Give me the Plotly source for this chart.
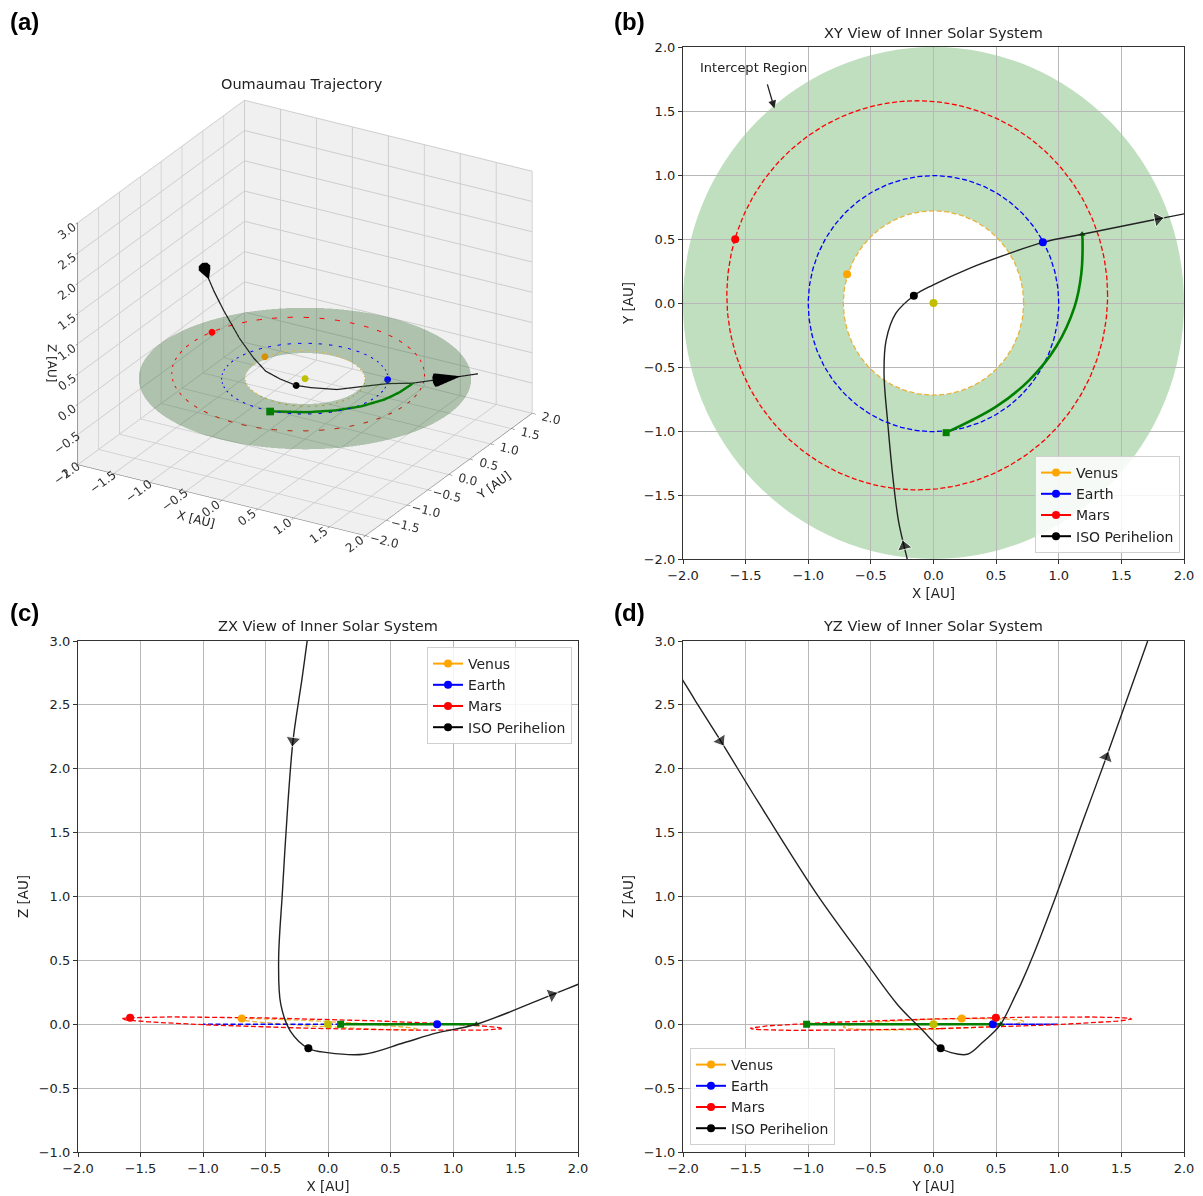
import numpy as np
import plotly.graph_objects as go

# ---------------- data ----------------
traj_x = [-0.16, -0.21, -0.235, -0.28, -0.32, -0.365, -0.395, -0.378, -0.30, -0.157, -0.005, 0.287, 0.607, 0.873, 1.187, 1.79, 2.02, 2.6, 3.5, 5.0, 6.2, 8.0]
traj_y = [-2.25, -2.0, -1.90, -1.70, -1.40, -0.94, -0.55, -0.29, -0.08, 0.057, 0.14, 0.271, 0.388, 0.474, 0.537, 0.656, 0.70, 0.80, 0.98, 1.20, 1.38, 1.71]
traj_z = [3.05, 2.69, 2.53, 2.22, 1.74, 1.03, 0.50, 0.157, -0.055, -0.188, -0.222, -0.235, -0.145, -0.068, 0.0, 0.23, 0.32, 0.55, 1.01, 1.61, 2.09, 3.0]
traj_3d_last = 16          # last point drawn in the 3D view

transfer_x = [0.101, 0.5, 0.767, 0.98, 1.126, 1.18, 1.19, 1.187]
transfer_y = [-1.013, -0.81, -0.60, -0.34, -0.03, 0.23, 0.49, 0.537]
transfer_z = [0.0, 0.0, 0.0, 0.0, 0.0, 0.0, 0.0, 0.0]

planet_names = ["Venus", "Earth", "Mars"]
planet_colors = ["#FFA500", "#0000FF", "#FF0000"]
orbit_colors = ["#E8B23A", "#0000FF", "#FF0000"]
planet_x = [-0.69, 0.873, -1.583]
planet_y = [0.225, 0.474, 0.498]
planet_z = [0.045, 0.0, 0.05]

orbit_cx = [0.0, 0.0, -0.13]
orbit_cy = [0.0, -0.005, 0.06]
orbit_r = [0.72, 1.0, 1.52]
orbit_sx = [-0.055, 0.0, -0.025]   # plane tilt dz/dx
orbit_sy = [0.03, 0.0, 0.024]      # plane tilt dz/dy

sun_xyz = [0.0, 0.0, 0.0]
perihelion_xyz = [-0.157, 0.057, -0.188]
intercept_r = [0.72, 2.0]

arrows_b = [2, 15]
arrows_c = [3, 15]
arrows_d = [3, 20]
arrows_3d = [(1, 2, 2), (15, 16, 15)]   # (from, to, tip point)

ticks_xy = [-2.0, -1.5, -1.0, -0.5, 0.0, 0.5, 1.0, 1.5, 2.0]
ticks_z = [-1.0, -0.5, 0.0, 0.5, 1.0, 1.5, 2.0, 2.5, 3.0]

FONT = "DejaVu Sans"
W, H = 1203, 1196

traj = [traj_x, traj_y, traj_z]
transfer = [transfer_x, transfer_y, transfer_z]
theta = np.linspace(0, 2 * np.pi, 241)
orbits = []
for cx, cy, r, sx, sy in zip(orbit_cx, orbit_cy, orbit_r, orbit_sx, orbit_sy):
    ox = cx + r * np.cos(theta)
    oy = cy + r * np.sin(theta)
    oz = sx * ox + sy * oy
    orbits.append([ox, oy, oz])

fig = go.Figure()


def px_x(p):
    return p / W


def px_y(p):
    return 1 - p / H


def add_view(xa, ya, i, j, legend, arrows):
    common = dict(xaxis=xa, yaxis=ya, hoverinfo="skip")
    for k in range(3):
        fig.add_trace(go.Scatter(x=orbits[k][i], y=orbits[k][j], mode="lines",
                                 line=dict(color=orbit_colors[k], width=1.3, dash="5px,2.5px"),
                                 showlegend=False, **common))
    fig.add_trace(go.Scatter(x=transfer[i], y=transfer[j], mode="lines",
                             line=dict(color="#008000", width=2.6, shape="spline", smoothing=1.0),
                             showlegend=False, **common))
    fig.add_trace(go.Scatter(x=[transfer[i][0]], y=[transfer[j][0]], mode="markers",
                             marker=dict(symbol="square", size=7, color="#008000"),
                             showlegend=False, **common))
    fig.add_trace(go.Scatter(x=[transfer[i][-1]], y=[transfer[j][-1]], mode="markers",
                             marker=dict(symbol="triangle-up", size=6, color="#006000"),
                             showlegend=False, **common))
    fig.add_trace(go.Scatter(x=traj[i], y=traj[j], mode="lines",
                             line=dict(color="#222222", width=1.4, shape="spline", smoothing=1.0),
                             showlegend=False, cliponaxis=True, **common))
    for a in arrows:
        fig.add_trace(go.Scatter(x=[traj[i][a - 1], traj[i][a]], y=[traj[j][a - 1], traj[j][a]],
                                 mode="markers",
                                 marker=dict(symbol="triangle-up", size=[0, 13], color="black",
                                             angleref="previous"),
                                 showlegend=False, **common))
    fig.add_trace(go.Scatter(x=[sun_xyz[i]], y=[sun_xyz[j]], mode="markers",
                             marker=dict(size=8, color="#BFBF00"), showlegend=False, **common))
    pxyz = [planet_x, planet_y, planet_z]
    for k in range(3):
        fig.add_trace(go.Scatter(x=[pxyz[i][k]], y=[pxyz[j][k]], mode="lines+markers",
                                 name=planet_names[k], legend=legend,
                                 line=dict(color=planet_colors[k], width=2),
                                 marker=dict(size=8, color=planet_colors[k]), **common))
    fig.add_trace(go.Scatter(x=[perihelion_xyz[i]], y=[perihelion_xyz[j]], mode="lines+markers",
                             name="ISO Perihelion", legend=legend,
                             line=dict(color="black", width=2),
                             marker=dict(size=8, color="black"), **common))


# ---- (b) XY view ----
add_view("x", "y", 0, 1, "legend", arrows_b)
# ---- (c) ZX view ----
add_view("x2", "y2", 0, 2, "legend2", arrows_c)
# ---- (d) YZ view ----
add_view("x3", "y3", 1, 2, "legend3", arrows_d)

# ---- (a) 3D view ----
T, R = np.meshgrid(theta, np.array(intercept_r))
fig.add_trace(go.Surface(x=R * np.cos(T), y=R * np.sin(T), z=np.zeros_like(R),
                         surfacecolor=np.zeros_like(R),
                         colorscale=[[0, "rgb(40,100,40)"], [1, "rgb(40,100,40)"]],
                         opacity=0.33, showscale=False, hoverinfo="skip",
                         lighting=dict(ambient=1, diffuse=0, specular=0, fresnel=0),
                         scene="scene"))
for k in range(3):
    fig.add_trace(go.Scatter3d(x=orbits[k][0], y=orbits[k][1], z=orbits[k][2], mode="lines",
                               line=dict(color=orbit_colors[k], width=2, dash="dash"),
                               showlegend=False, hoverinfo="skip", scene="scene"))
fig.add_trace(go.Scatter3d(x=transfer_x, y=transfer_y, z=transfer_z, mode="lines",
                           line=dict(color="#008000", width=5), showlegend=False,
                           hoverinfo="skip", scene="scene"))
fig.add_trace(go.Scatter3d(x=[transfer_x[0]], y=[transfer_y[0]], z=[transfer_z[0]], mode="markers",
                           marker=dict(symbol="square", size=4, color="#008000"), showlegend=False,
                           hoverinfo="skip", scene="scene"))
n3 = traj_3d_last + 1
fig.add_trace(go.Scatter3d(x=traj_x[1:n3], y=traj_y[1:n3], z=traj_z[1:n3], mode="lines",
                           line=dict(color="#222222", width=2.5), showlegend=False,
                           hoverinfo="skip", scene="scene"))
cone_dirs, cone_pts = [], []
for a, b, p in arrows_3d:
    d = np.array([traj_x[b] - traj_x[a], traj_y[b] - traj_y[a], traj_z[b] - traj_z[a]])
    cone_dirs.append(d / np.linalg.norm(d))
    cone_pts.append(p)
cone_dirs = np.array(cone_dirs)
fig.add_trace(go.Cone(x=[traj_x[p] for p in cone_pts], y=[traj_y[p] for p in cone_pts],
                      z=[traj_z[p] for p in cone_pts],
                      u=cone_dirs[:, 0], v=cone_dirs[:, 1], w=cone_dirs[:, 2],
                      anchor="tip", sizemode="absolute", sizeref=0.09,
                      colorscale=[[0, "black"], [1, "black"]], showscale=False,
                      hoverinfo="skip", scene="scene"))
fig.add_trace(go.Scatter3d(x=planet_x + [sun_xyz[0], perihelion_xyz[0]],
                           y=planet_y + [sun_xyz[1], perihelion_xyz[1]],
                           z=planet_z + [sun_xyz[2], perihelion_xyz[2]],
                           mode="markers",
                           marker=dict(size=4, color=["#D89000", "#0000FF", "#FF0000", "#BFBF00", "black"]),
                           showlegend=False, hoverinfo="skip", scene="scene"))

# ---------------- layout ----------------
grid = "#b8b8b8"


def ax2d(dom, rng, ticks, title, anchor):
    return dict(domain=dom, range=rng, tickvals=ticks, tickformat=".1f", showgrid=True,
                gridcolor=grid, gridwidth=1, zeroline=False, showline=True, linecolor="#333333",
                linewidth=1.2, mirror=True, ticks="outside", ticklen=4, tickcolor="#333333",
                tickfont=dict(size=13, color="#222222", family=FONT),
                title=dict(text=title, font=dict(size=13.5, color="#222222", family=FONT), standoff=6),
                anchor=anchor, automargin=False, fixedrange=True)


xb = [px_x(683), px_x(1184)]
yb = [px_y(559), px_y(47)]
xc = [px_x(78), px_x(578)]
ycd = [px_y(1152), px_y(641)]
xd = [px_x(683), px_x(1184)]

scene_axis = dict(showbackground=True, backgroundcolor="rgb(240,240,240)", gridcolor="rgb(205,205,205)",
                  showline=True, linecolor="#444444", ticks="outside", ticklen=4, tickformat=".1f",
                  tickfont=dict(size=12, color="#333333", family=FONT), showspikes=False,
                  zeroline=False)

legend_common = dict(bgcolor="rgba(255,255,255,0.85)", bordercolor="#d0d0d0", borderwidth=1,
                     font=dict(size=14, family=FONT), tracegroupgap=0, itemwidth=30)

fig.update_layout(
    width=W, height=H, margin=dict(l=0, r=0, t=0, b=0),
    paper_bgcolor="white", plot_bgcolor="white",
    font=dict(family=FONT, color="#222222"),
    xaxis=ax2d(xb, [-2, 2], ticks_xy, "X [AU]", "y"),
    yaxis=ax2d(yb, [-2, 2], ticks_xy, "Y [AU]", "x"),
    xaxis2=ax2d(xc, [-2, 2], ticks_xy, "X [AU]", "y2"),
    yaxis2=ax2d(ycd, [-1, 3], ticks_z, "Z [AU]", "x2"),
    xaxis3=ax2d(xd, [-2, 2], ticks_xy, "Y [AU]", "y3"),
    yaxis3=ax2d(ycd, [-1, 3], ticks_z, "Z [AU]", "x3"),
    scene=dict(
        domain=dict(x=[px_x(30), px_x(580)], y=[px_y(568), px_y(68)]),
        xaxis=dict(scene_axis, range=[-2, 2], tickvals=ticks_xy, title=dict(text="X [AU]", font=dict(size=12))),
        yaxis=dict(scene_axis, range=[-2, 2], tickvals=ticks_xy, title=dict(text="Y [AU]", font=dict(size=12))),
        zaxis=dict(scene_axis, range=[-1, 3], tickvals=ticks_z, title=dict(text="Z [AU]", font=dict(size=12))),
        aspectmode="manual", aspectratio=dict(x=1.33, y=1.33, z=1.07),
        camera=dict(eye=dict(x=0.8, y=-1.38, z=0.75), center=dict(x=0, y=0, z=0),
                    projection=dict(type="orthographic")),
        bgcolor="white",
    ),
    legend=dict(legend_common, x=px_x(1180), y=px_y(553), xanchor="right", yanchor="bottom"),
    legend2=dict(legend_common, x=px_x(572), y=px_y(647), xanchor="right", yanchor="top"),
    legend3=dict(legend_common, x=px_x(690), y=px_y(1145), xanchor="left", yanchor="bottom"),
    shapes=[
        dict(type="circle", xref="x", yref="y", x0=-intercept_r[1], y0=-intercept_r[1],
             x1=intercept_r[1], y1=intercept_r[1], fillcolor="rgba(0,128,0,0.25)",
             line=dict(width=0), layer="below"),
        dict(type="circle", xref="x", yref="y", x0=-intercept_r[0], y0=-intercept_r[0],
             x1=intercept_r[0], y1=intercept_r[0], fillcolor="white",
             line=dict(width=0), layer="below"),
    ],
)

annotations = [
    dict(text="<b>(a)</b>", x=px_x(8), y=px_y(6)),
    dict(text="<b>(b)</b>", x=px_x(612), y=px_y(6)),
    dict(text="<b>(c)</b>", x=px_x(8), y=px_y(597)),
    dict(text="<b>(d)</b>", x=px_x(612), y=px_y(597)),
]
for a in annotations:
    a.update(xref="paper", yref="paper", xanchor="left", yanchor="top", showarrow=False,
             font=dict(size=24, family="Liberation Sans", color="black"))
titles = [
    ("Oumaumau Trajectory", 302, 84),
    ("XY View of Inner Solar System", 933, 33),
    ("ZX View of Inner Solar System", 328, 626),
    ("YZ View of Inner Solar System", 933, 626),
]
for t, x, y in titles:
    annotations.append(dict(text=t, x=px_x(x), y=px_y(y), xref="paper", yref="paper",
                            xanchor="center", yanchor="middle", showarrow=False,
                            font=dict(size=14.5, family=FONT, color="#222222")))
annotations.append(dict(text="Intercept Region", x=-1.44, y=1.84, xref="x", yref="y",
                        showarrow=False, font=dict(size=13, family=FONT, color="#222222")))
annotations.append(dict(text="", x=-1.27, y=1.52, ax=-1.33, ay=1.72, xref="x", yref="y",
                        axref="x", ayref="y", showarrow=True, arrowhead=2, arrowsize=1.2,
                        arrowwidth=1.3, arrowcolor="#222222", standoff=0))
fig.update_layout(annotations=annotations)

fig.write_html("out.html", config={"displayModeBar": False},
               post_script="document.body.style.margin='0';document.body.style.padding='0';"
                           "document.documentElement.style.overflow='hidden';")
